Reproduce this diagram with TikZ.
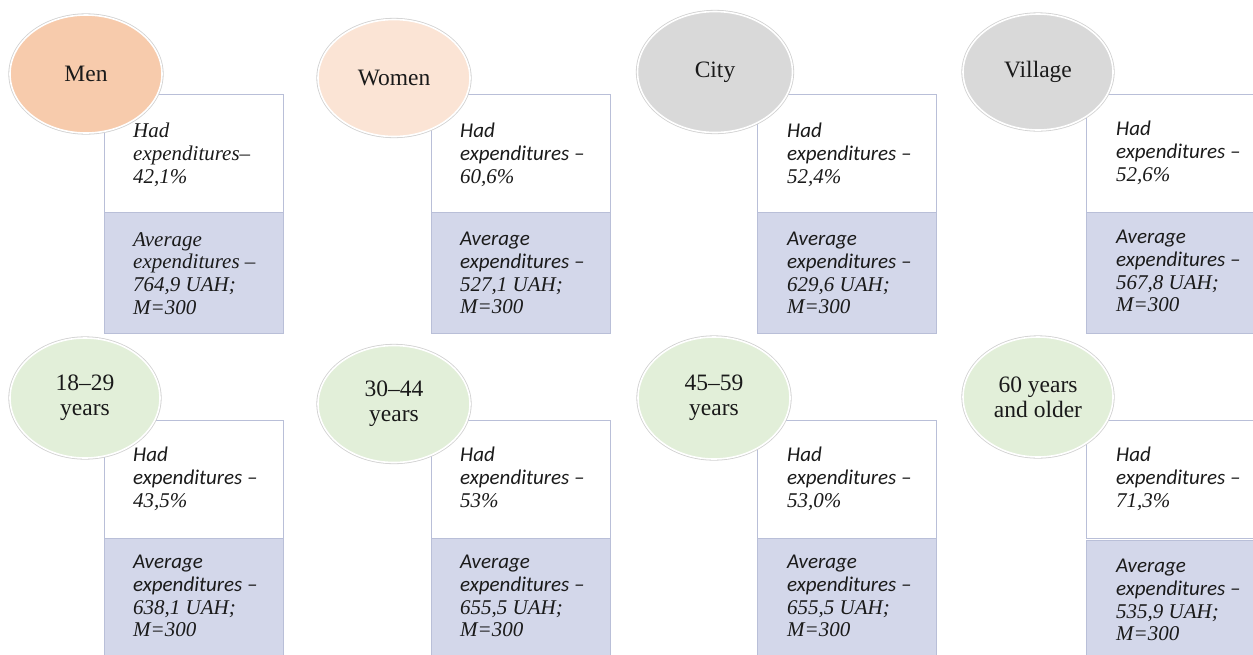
\documentclass[tikz,border=0pt]{standalone}
\usepackage{fontspec}
\setmainfont{Liberation Serif}
\newfontfamily\calibit{Carlito Italic}
\newfontfamily\timesit{Liberation Serif Italic}
\usetikzlibrary{shapes.geometric}
\definecolor{peach}{HTML}{F7CBAC}
\definecolor{peachlt}{HTML}{FBE4D5}
\definecolor{grayfill}{HTML}{D9D9D9}
\definecolor{greenfill}{HTML}{E2EFD9}
\definecolor{lavfill}{HTML}{D3D7EA}
\definecolor{boxline}{HTML}{B9BFD8}
\definecolor{ink}{HTML}{1A1A1A}
\newcommand\sansit[1]{{\calibit #1}}
\newcommand\serit[1]{{\timesit #1}}
\tikzset{
  oval/.style={ellipse, draw=white, line width=1.6pt,
    preaction={draw=black!18, line width=3.2pt},
    font=\fontsize{23.5}{25}\selectfont, text=ink, align=center, inner sep=0pt},
  upbox/.style={rectangle, draw=boxline, line width=0.8pt, fill=white,
    minimum width=179pt, minimum height=118pt, anchor=north west, inner sep=0pt},
  lowbox/.style={rectangle, draw=boxline, line width=0.8pt, fill=lavfill,
    minimum width=179pt, minimum height=121pt, anchor=north west, inner sep=0pt},
  txt/.style={anchor=north west, align=left, inner sep=0pt, text=ink,
    font=\fontsize{21}{22.7}\selectfont},
}
\begin{document}
\begin{tikzpicture}[x=1pt,y=-1pt]
\clip (0,0) rectangle (1253,654);
\fill[white] (0,0) rectangle (1253,654);

% ---------- top row ----------
% Men
\node[upbox] (m-up) at (104,94) {};
\node[lowbox] (m-low) at (104,212) {};
\node[oval, fill=peach, minimum width=152pt, minimum height=118pt] (m-ov) at (86,74) {Men};
\node[txt] (m-t1) at (133,123) {\serit{Had}\\\serit{expenditures–}\\\serit{42,1\%}};
\node[txt] (m-t2) at (133,232) {\serit{Average}\\\serit{expenditures –}\\\serit{764,9 UAH;}\\\serit{M=300}};

% Women
\node[upbox] (w-up) at (431,94) {};
\node[lowbox] (w-low) at (431,212) {};
\node[oval, fill=peachlt, minimum width=152pt, minimum height=117pt] (w-ov) at (394,78) {Women};
\node[txt] (w-t1) at (460,123) {\sansit{Had}\\\sansit{expenditures –}\\\serit{60,6\%}};
\node[txt] (w-t2) at (460,232) {\sansit{Average}\\\sansit{expenditures –}\\\serit{527,1 UAH;}\\\serit{M=300}};

% City
\node[upbox] (c-up) at (757,94) {};
\node[lowbox] (c-low) at (757,212) {};
\node[oval, fill=grayfill, minimum width=155pt, minimum height=121pt] (c-ov) at (715,72) {City};
\node[txt] (c-t1) at (787,123) {\sansit{Had}\\\sansit{expenditures –}\\\serit{52,4\%}};
\node[txt] (c-t2) at (787,232) {\sansit{Average}\\\sansit{expenditures –}\\\serit{629,6 UAH;}\\\serit{M=300}};

% Village
\node[upbox] (v-up) at (1086,94) {};
\node[lowbox] (v-low) at (1086,212) {};
\node[oval, fill=grayfill, minimum width=150pt, minimum height=116pt] (v-ov) at (1038,72) {Village};
\node[txt] (v-t1) at (1116,121) {\sansit{Had}\\\sansit{expenditures –}\\\serit{52,6\%}};
\node[txt] (v-t2) at (1116,230) {\sansit{Average}\\\sansit{expenditures –}\\\serit{567,8 UAH;}\\\serit{M=300}};

% ---------- bottom row ----------
% 18-29
\node[upbox] (a-up) at (104,420) {};
\node[lowbox] (a-low) at (104,538) {};
\node[oval, fill=greenfill, minimum width=150pt, minimum height=120pt] (a-ov) at (85,398) {18–29\\years};
\node[txt] (a-t1) at (133,447) {\sansit{Had}\\\sansit{expenditures –}\\\serit{43,5\%}};
\node[txt] (a-t2) at (133,555) {\sansit{Average}\\\sansit{expenditures –}\\\serit{638,1 UAH;}\\\serit{M=300}};

% 30-44
\node[upbox] (b-up) at (431,420) {};
\node[lowbox] (b-low) at (431,538) {};
\node[oval, fill=greenfill, minimum width=152pt, minimum height=117pt] (b-ov) at (394,404) {30–44\\years};
\node[txt] (b-t1) at (460,447) {\sansit{Had}\\\sansit{expenditures –}\\\serit{53\%}};
\node[txt] (b-t2) at (460,555) {\sansit{Average}\\\sansit{expenditures –}\\\serit{655,5 UAH;}\\\serit{M=300}};

% 45-59
\node[upbox] (c2-up) at (757,420) {};
\node[lowbox] (c2-low) at (757,538) {};
\node[oval, fill=greenfill, minimum width=152pt, minimum height=122pt] (c2-ov) at (714,398) {45–59\\years};
\node[txt] (c2-t1) at (787,447) {\sansit{Had}\\\sansit{expenditures –}\\\serit{53,0\%}};
\node[txt] (c2-t2) at (787,555) {\sansit{Average}\\\sansit{expenditures –}\\\serit{655,5 UAH;}\\\serit{M=300}};

% 60 and older
\node[upbox] (d-up) at (1086,420) {};
\node[lowbox] (d-low) at (1086,540) {};
\node[oval, fill=greenfill, minimum width=150pt, minimum height=120pt] (d-ov) at (1038,397) {60 years\\and older};
\node[txt] (d-t1) at (1116,447) {\sansit{Had}\\\sansit{expenditures –}\\\serit{71,3\%}};
\node[txt] (d-t2) at (1116,559) {\sansit{Average}\\\sansit{expenditures –}\\\serit{535,9 UAH;}\\\serit{M=300}};
\end{tikzpicture}
\end{document}
